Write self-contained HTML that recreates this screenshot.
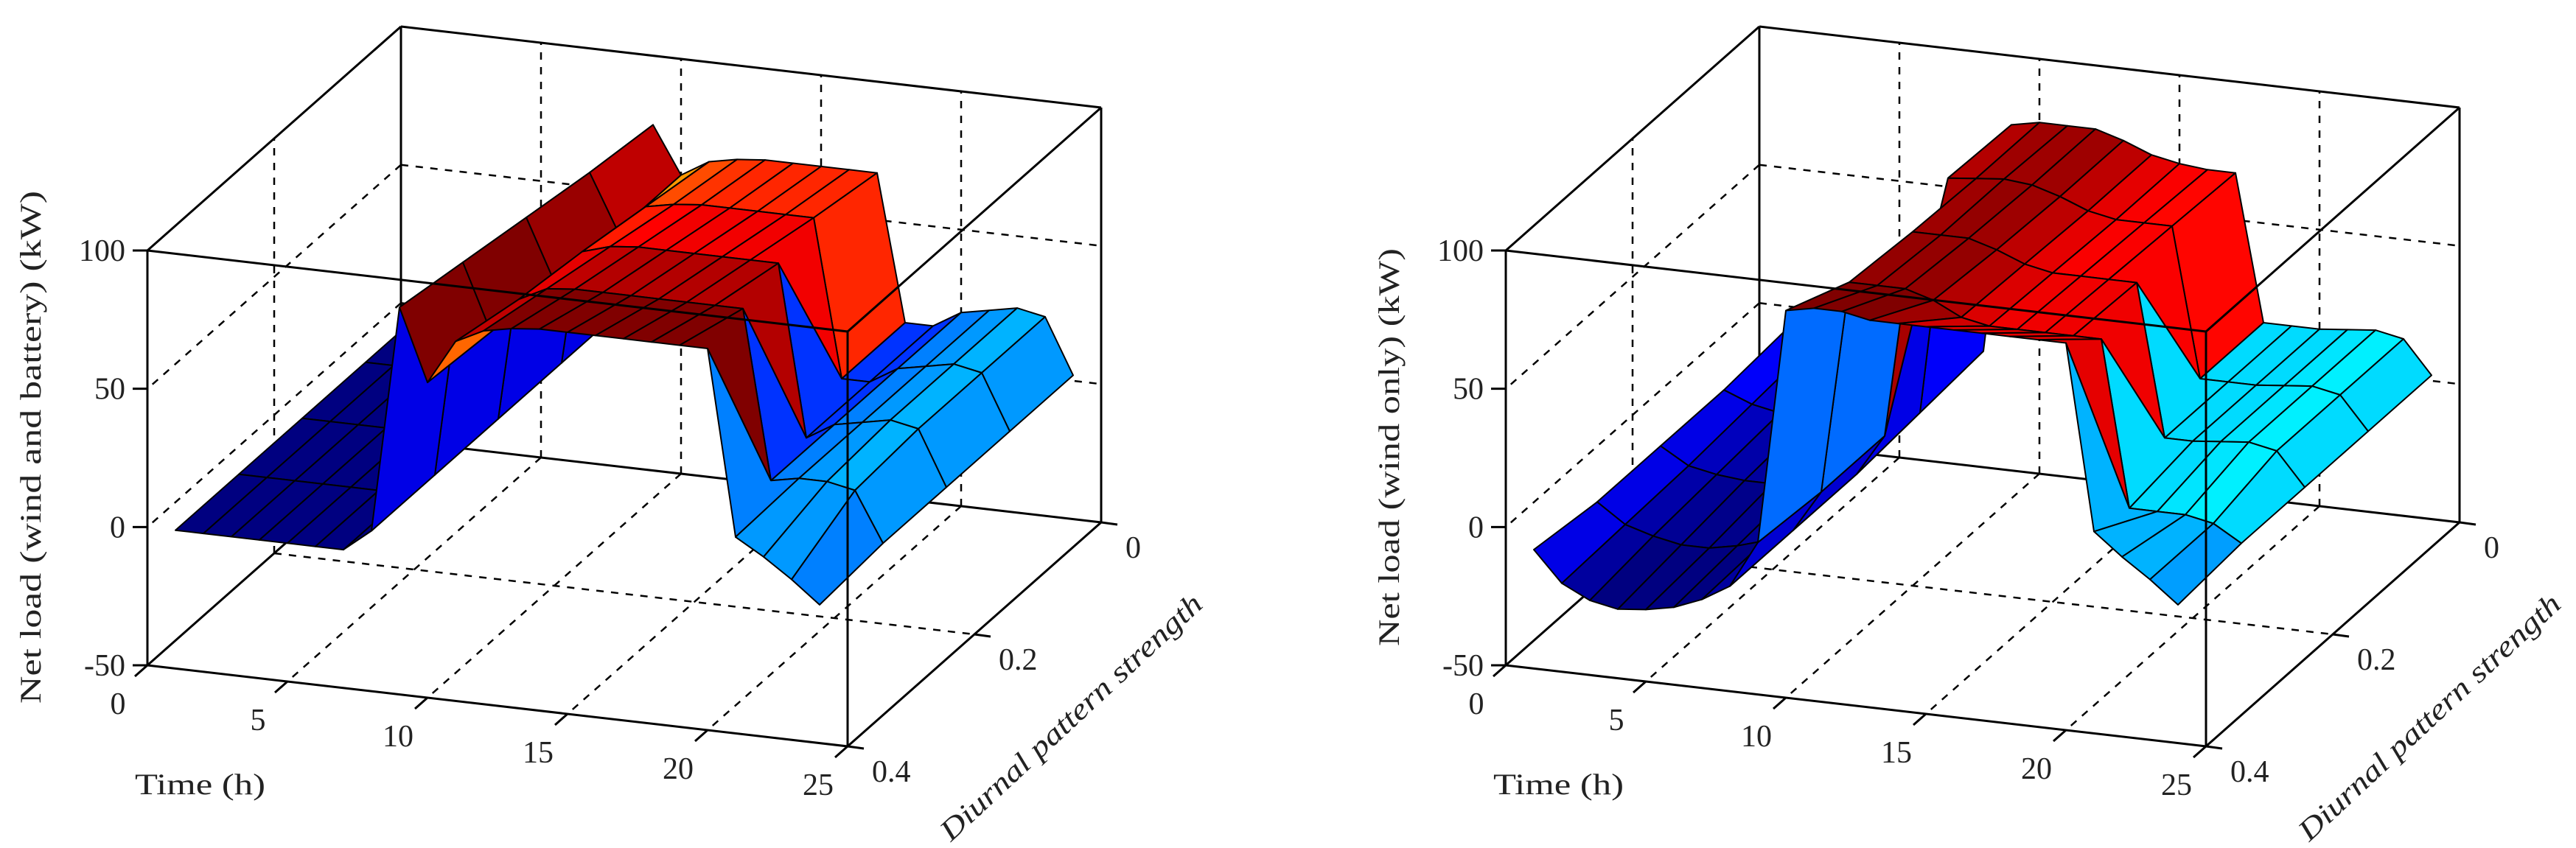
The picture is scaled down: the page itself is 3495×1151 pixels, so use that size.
<!DOCTYPE html>
<html><head><meta charset="utf-8"><style>
html,body{margin:0;padding:0;background:#fff;}
svg{display:block;font-family:"Liberation Serif",serif;}
</style></head><body>
<svg id="chart" width="3495" height="1151" viewBox="0 0 3495 1151" xmlns="http://www.w3.org/2000/svg">
<rect x="0" y="0" width="3495" height="1151" fill="#fff"/>
<g id="plotL"></g>
<g id="plotR"></g>
</svg>
<script>
// ---- data ----
const timeValues = [1,2,3,4,5,6,7,8,9,10,11,12,13,14,15,16,17,18,19,20,21,22,23,24];
const strengthValues = [0,0.1,0.2,0.3,0.4];
const timeTicks = [0,5,10,15,20,25];
const strengthTicks = [0,0.2,0.4];
const strengthTickLabels = ["0","0.2","0.4"];
const loadTicks = [-50,0,50,100];
// Net load (wind and battery), one array per diurnal-strength row
const batteryS00 = [0,0,0,0,0,0,0,8,75,58,64,66,67,67,67,67,67,14,14,20,22,24,22,2];
const batteryS01 = [0,0,0,0,0,0,0,8,78,58,68,70,71,71,71,71,71,14,14,20,22,24,22,2];
const batteryS02 = [0,0,0,0,0,0,0,8,82,60,72,75,76,76,76,76,76,76,14,20,22,24,22,2];
const batteryS03 = [0,0,0,0,0,0,0,8,86,62,75,80,81,81,81,81,81,81,81,20,22,22,20,2];
const batteryS04 = [0,0,0,0,0,0,0,8,90,64,80,85,87,88,88,88,88,88,88,88,21,15,8,0];
// Net load (wind only)
const windS00 = [-8,-12,-14,-14,-14,-13,-12,-8,75,77,77,77,74,70,68,67,67,14,14,14,15,16,14,2];
const windS01 = [-10,-14,-16,-17,-17,-16,-14,-10,76,77,78,77,74,70,68,68,68,14,14,14,15,16,14,2];
const windS02 = [-10,-16,-18,-19,-19,-18,-16,-12,3,78,78,78,75,71,69,69,69,69,14,14,15,16,14,2];
const windS03 = [-10,-17,-20,-22,-22,-20,-17,-12,3,80,80,80,77,72,70,70,70,70,70,10,10,10,8,2];
const windS04 = [-7,-18,-23,-25,-24,-22,-18,-12,5,90,92,92,90,90,90,90,90,90,90,90,23,15,8,0];

const NS = "http://www.w3.org/2000/svg";
function jet(x){
  x = Math.max(0, Math.min(1, x));
  const c = v => Math.round(255*Math.max(0, Math.min(1, v)));
  return `rgb(${c(1.5-Math.abs(4*x-3))},${c(1.5-Math.abs(4*x-2))},${c(1.5-Math.abs(4*x-1))})`;
}
function mk(tag, attrs, parent){
  const e = document.createElementNS(NS, tag);
  for (const k in attrs) e.setAttribute(k, attrs[k]);
  parent.appendChild(e);
  return e;
}
function makeProj(ox, oy){
  return function(t, s, z){
    const f = (0.4 - s)/0.4;
    return [ox + 38*t + 344*f, oy + 4.4*t - 304*f - (z+50)*563/150];
  };
}
function line(g, P, a, b, dashed, w){
  const p = P(...a), q = P(...b);
  const l = mk('line', {x1:p[0].toFixed(1), y1:p[1].toFixed(1), x2:q[0].toFixed(1), y2:q[1].toFixed(1), stroke:'#000', 'stroke-width': w||3}, g);
  if (dashed) l.setAttribute('stroke-dasharray','10,10');
  return l;
}
function drawPlot(g, ox, oy, rows, cmin, cmax, title, titleLen){
  const P = makeProj(ox, oy);
  const back = [
    [[0,0,-50],[25,0,-50]],[[0,0,-50],[0,0,100]],[[25,0,-50],[25,0,100]],
    [[0,0,100],[25,0,100]],[[0,0,100],[0,0.4,100]],[[0,0,-50],[0,0.4,-50]]
  ];
  back.forEach(e => {
    const l = line(g, P, e[0], e[1], false, 3);
    
    
  });
  [5,10,15,20].forEach(t => {
    let l = line(g, P, [t,0,-50],[t,0,100], true, 2.5);
    
    
    l = line(g, P, [t,0,-50],[t,0.4,-50], true, 2.5);
    
    
  });
  [0,50].forEach(z => {
    let l = line(g, P, [0,0,z],[25,0,z], true, 2.5);
    
    
    l = line(g, P, [0,0,z],[0,0.4,z], true, 2.5);
    
    
  });
  {
    let l = line(g, P, [0,0.2,-50],[0,0.2,100], true, 2.5);
    
    
    l = line(g, P, [0,0.2,-50],[25,0.2,-50], true, 2.5);
    
    
  }
  const faces = [];
  for (let i=0;i<strengthValues.length-1;i++){
    for (let j=0;j<timeValues.length-1;j++){
      const t0=timeValues[j], t1=timeValues[j+1], s0=strengthValues[i], s1=strengthValues[i+1];
      const pts=[P(t0,s0,rows[i][j]),P(t1,s0,rows[i][j+1]),P(t1,s1,rows[i+1][j+1]),P(t0,s1,rows[i+1][j])];
      const depth = 4.4*(t0+t1)/2 + 760*(s0+s1)/2;
      faces.push({pts, depth, c: jet((rows[i][j]-cmin)/(cmax-cmin))});
    }
  }
  faces.sort((a,b)=>a.depth-b.depth);
  const sg = mk('g', {}, g);
  
  
  faces.forEach(f => {
    const poly = mk('polygon', {points: f.pts.map(p=>p[0].toFixed(1)+','+p[1].toFixed(1)).join(' '), fill:f.c, stroke:'#000', 'stroke-width':2, 'stroke-linejoin':'round'}, sg);
    
    
  });
  const front = [
    [[0,0.4,-50],[25,0.4,-50]],[[0,0.4,-50],[0,0.4,100]],[[25,0.4,-50],[25,0.4,100]],
    [[0,0.4,100],[25,0.4,100]],[[25,0,100],[25,0.4,100]],[[25,0,-50],[25,0.4,-50]]
  ];
  front.forEach(e => {
    const l = line(g, P, e[0], e[1], false, 3);
    
    
  });
  loadTicks.forEach(z => {
    const p = P(0,0.4,z);
    const tk = mk('line', {x1:p[0]-20, y1:p[1], x2:p[0], y2:p[1], stroke:'#000','stroke-width':3}, g);
    
    
    const tx = mk('text', {x:p[0]-30, y:p[1]+14, 'font-size':42, 'text-anchor':'end', fill:'#222'}, g);
    tx.textContent = String(z);
    
    
  });
  timeTicks.forEach(t => {
    const p = P(t,0.4,-50);
    const tk = mk('line', {x1:p[0], y1:p[1], x2:p[0]-17, y2:p[1]+15, stroke:'#000','stroke-width':3}, g);
    
    
    const tx = mk('text', {x:p[0]-40, y:p[1]+66, 'font-size':42, 'text-anchor':'middle', fill:'#222'}, g);
    tx.textContent = String(t);
    
    
  });
  strengthTicks.forEach((s,k) => {
    const p = P(25,s,-50);
    const tk = mk('line', {x1:p[0], y1:p[1], x2:p[0]+22, y2:p[1]+3, stroke:'#000','stroke-width':3}, g);
    
    
    const tx = mk('text', {x:p[0]+33, y:p[1]+48, 'font-size':42, 'text-anchor':'start', fill:'#222'}, g);
    tx.textContent = strengthTickLabels[k];
    
    
  });
  const xt = mk('text', {x:ox-17, y:oy+175, 'font-size':40, fill:'#222', textLength:177, lengthAdjust:'spacingAndGlyphs'}, g);
  xt.textContent = 'Time (h)';
  
  
  const zt = mk('text', {x:0, y:0, 'font-size':40, fill:'#222', 'text-anchor':'middle', textLength:titleLen, lengthAdjust:'spacingAndGlyphs', transform:`translate(${ox-145},${oy-296}) rotate(-90)`}, g);
  zt.textContent = title;
  
  
  const st = mk('text', {x:0, y:0, 'font-size':40, 'font-style':'italic', fill:'#222', 'text-anchor':'middle', textLength:470, lengthAdjust:'spacingAndGlyphs', transform:`translate(${ox+1262},${oy+80}) rotate(-43)`}, g);
  st.textContent = 'Diurnal pattern strength';
  
  
}
drawPlot(document.getElementById('plotL'), 200, 903,
  [batteryS00,batteryS01,batteryS02,batteryS03,batteryS04], 0, 80,
  'Net load  (wind and battery)  (kW)', 696);
drawPlot(document.getElementById('plotR'), 2043, 903,
  [windS00,windS01,windS02,windS03,windS04], -20, 80,
  'Net load (wind only) (kW)', 540);
</script>
</body></html>
